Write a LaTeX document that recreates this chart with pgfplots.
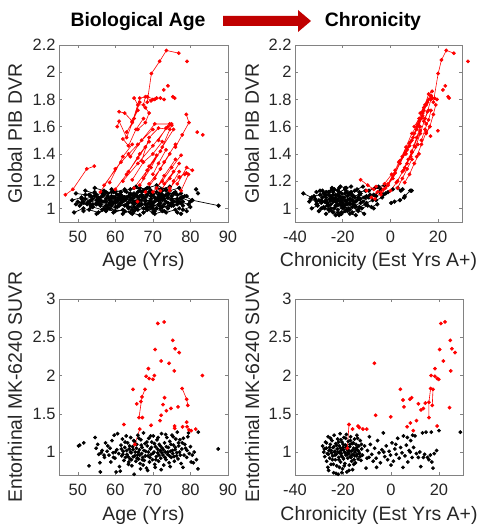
\documentclass[border=0pt]{standalone}
\usepackage{fontspec}
\setmainfont{Liberation Sans}
\usepackage{pgfplots}
\pgfplotsset{compat=1.18}

\definecolor{axgray}{RGB}{130,130,130}
\definecolor{txtgray}{RGB}{38,38,38}
\definecolor{arrowred}{RGB}{192,0,0}

\pgfplotsset{
  panel/.style={
    scale only axis, anchor=south west,
    axis line style={draw=axgray, line width=0.7pt},
    tick style={draw=axgray, line width=0.5pt},
    major tick length=3bp, tick align=inside,
    ticklabel style={font=\fontsize{16.5}{18}\selectfont, text=txtgray},
    label style={font=\fontsize{19.5}{22}\selectfont, text=txtgray},
    xlabel style={at={(axis description cs:0.5,0)}, anchor=base, yshift=-45bp},
    every x tick label/.append style={yshift=-6bp},
    unbounded coords=jump,
  },
  blk/.style={color=black, mark=*, mark size=1.6pt, line width=0.6pt},
  blkd/.style={color=black, mark=*, mark size=1.8pt, line width=0.7pt},
  rd/.style={color=red, mark=*, mark size=1.6pt, line width=0.6pt},
}

\begin{document}
\begin{tikzpicture}
\useasboundingbox (0,0) rectangle (479bp,528bp);

% header
\node[anchor=base, font=\bfseries\fontsize{19.5}{22}\selectfont] at (138bp,501bp) {Biological Age};
\node[anchor=base, font=\bfseries\fontsize{19.5}{22}\selectfont] at (373bp,501bp) {Chronicity};
\fill[arrowred] (223bp,502bp) -- (298bp,502bp) -- (298bp,496bp) -- (311bp,507bp)
  -- (298bp,518bp) -- (298bp,512bp) -- (223bp,512bp) -- cycle;

% ---------- top left: age vs PIB
\begin{axis}[panel, at={(59bp,306bp)}, width=169bp, height=177bp,
  xmin=45, xmax=90, ymin=0.9, ymax=2.2,
  xtick={50,60,70,80,90}, xticklabels={50,60,70,80,90},
  ytick={1,1.2,1.4,1.6,1.8,2,2.2}, yticklabels={1,1.2,1.4,1.6,1.8,2,2.2},
  xlabel={Age (Yrs)}, ylabel={Global PIB DVR},
  ylabel style={at={(axis description cs:-0.219,0.5)}, anchor=base}]
\addplot[blkd] coordinates {
(48.5,1.06) (51.0,1.08) (53.2,1.05) (0,nan)
(49.0,0.97) (51.5,1.00) (0,nan)
(49.5,1.11) (52.0,1.10) (54.5,1.12) (0,nan)
(50.5,1.02) (53.0,1.04) (55.0,1.03) (0,nan)
(51.0,1.07) (53.5,1.06) (0,nan)
(51.5,0.98) (54.0,1.01) (56.5,0.99) (0,nan)
(52.0,1.13) (54.5,1.11) (0,nan)
(52.5,1.04) (55.0,1.06) (57.5,1.05) (59.5,1.08) (0,nan)
(53.0,0.99) (55.5,0.97) (58.0,1.00) (0,nan)
(53.5,1.09) (56.0,1.08) (0,nan)
(54.0,1.03) (56.5,1.05) (59.0,1.02) (0,nan)
(54.5,1.15) (57.0,1.13) (0,nan)
(55.0,0.96) (57.5,0.99) (60.0,0.98) (0,nan)
(55.5,1.07) (58.0,1.09) (60.5,1.06) (0,nan)
(56.0,1.02) (58.5,1.00) (0,nan)
(56.5,1.11) (59.0,1.12) (61.5,1.10) (0,nan)
(57.0,1.05) (59.5,1.04) (62.0,1.07) (0,nan)
(57.5,0.98) (60.0,1.01) (0,nan)
(58.0,1.08) (60.5,1.10) (63.0,1.08) (65.0,1.11) (0,nan)
(58.5,1.03) (61.0,1.02) (63.5,1.04) (0,nan)
(59.0,1.14) (61.5,1.12) (0,nan)
(59.5,0.97) (62.0,0.99) (64.5,0.96) (0,nan)
(60.0,1.06) (62.5,1.08) (65.0,1.05) (0,nan)
(60.5,1.01) (63.0,1.03) (0,nan)
(61.0,1.10) (63.5,1.09) (66.0,1.12) (0,nan)
(61.5,1.04) (64.0,1.06) (66.5,1.03) (0,nan)
(62.0,0.96) (64.5,0.99) (0,nan)
(62.5,1.13) (65.0,1.15) (67.5,1.13) (0,nan)
(63.0,1.07) (65.5,1.05) (68.0,1.08) (0,nan)
(63.5,1.00) (66.0,1.02) (68.5,0.99) (0,nan)
(64.0,1.11) (66.5,1.09) (0,nan)
(64.5,1.04) (67.0,1.06) (69.5,1.05) (71.5,1.08) (0,nan)
(65.0,0.98) (67.5,1.00) (70.0,0.97) (0,nan)
(65.5,1.16) (68.0,1.14) (0,nan)
(66.0,1.08) (68.5,1.10) (71.0,1.07) (0,nan)
(66.5,1.02) (69.0,1.04) (0,nan)
(67.0,1.12) (69.5,1.13) (72.0,1.11) (0,nan)
(67.5,0.97) (70.0,1.00) (72.5,0.98) (0,nan)
(68.0,1.06) (70.5,1.05) (0,nan)
(68.5,1.15) (71.0,1.17) (73.5,1.14) (0,nan)
(69.0,1.01) (71.5,1.03) (74.0,1.00) (0,nan)
(69.5,1.09) (72.0,1.07) (0,nan)
(70.0,1.04) (72.5,1.06) (75.0,1.04) (0,nan)
(70.5,0.96) (73.0,0.98) (0,nan)
(71.0,1.12) (73.5,1.10) (76.0,1.12) (0,nan)
(71.5,1.06) (74.0,1.08) (76.5,1.05) (0,nan)
(72.0,1.00) (74.5,1.02) (0,nan)
(72.5,1.10) (75.0,1.09) (77.5,1.11) (0,nan)
(73.0,1.03) (75.5,1.05) (78.0,1.02) (0,nan)
(73.5,0.97) (76.0,0.99) (0,nan)
(74.0,1.08) (76.5,1.07) (79.0,1.09) (0,nan)
(75.0,1.02) (77.5,1.04) (0,nan)
(76.0,1.11) (78.5,1.09) (80.5,1.06) (0,nan)
(77.0,1.05) (79.5,1.03) (0,nan)
(78.0,0.99) (80.0,1.01) (0,nan)
(80.5,1.06) (87.5,1.02) (0,nan)
(81.5,1.14) (82.0,1.11) (0,nan)
(64.0,0.97) (66.5,0.95) (0,nan)
(60.0,1.12) (62.5,1.14) (0,nan)
(67.0,1.03) (69.5,1.01) (72.0,1.04) (0,nan)
(55.0,1.10) (57.5,1.12) (0,nan)
(74.5,1.13) (77.0,1.15) (0,nan)
(57.0,1.00) (62.5,0.98) (0,nan)
(70.0,1.10) (72.5,1.13) (0,nan)
(63.0,1.12) (65.5,1.10) (0,nan)
(76.5,0.97) (77.5,0.96) (0,nan)
(50.0,1.05) (52.5,1.03) (0,nan)
(53.0,1.10) (55.5,1.08) (58.0,1.11) (0,nan)
(56.0,1.06) (58.5,1.04) (61.0,1.07) (0,nan)
(58.0,1.02) (60.5,1.05) (0,nan)
(59.0,1.09) (61.5,1.07) (64.0,1.10) (0,nan)
(61.0,1.03) (63.5,1.01) (66.0,1.04) (0,nan)
(62.0,1.08) (64.5,1.10) (0,nan)
(63.0,1.02) (65.5,1.00) (68.0,1.03) (0,nan)
(65.0,1.09) (67.5,1.08) (70.0,1.10) (0,nan)
(66.0,1.05) (68.5,1.03) (0,nan)
(67.0,1.09) (69.5,1.07) (72.0,1.09) (0,nan)
(69.0,1.12) (71.5,1.10) (0,nan)
(70.0,1.02) (72.5,1.01) (75.0,1.03) (0,nan)
(71.0,1.07) (73.5,1.05) (0,nan)
(73.0,1.09) (75.5,1.11) (78.0,1.08) (0,nan)
(74.0,1.04) (76.5,1.03) (0,nan)
(75.0,1.07) (77.5,1.08) (80.0,1.05) (0,nan)
(52.0,1.07) (54.5,1.09) (0,nan)
(60.0,1.04) (62.5,1.06) (65.0,1.03) (0,nan)
(64.0,1.14) (66.5,1.15) (0,nan)
(68.0,1.00) (70.5,0.98) (0,nan)
(72.0,1.14) (74.5,1.16) (0,nan)
(77.0,1.00) (79.0,0.98) (0,nan)
(57.0,1.10) (59.5,1.12) (0,nan)
(55.0,1.04) (57.5,1.02) (0,nan)
(51.0,1.04) (53.5,1.02) (55.5,1.05) (0,nan)
(54.0,1.07) (56.5,1.09) (0,nan)
(57.5,1.07) (60.0,1.08) (62.0,1.05) (0,nan)
(59.0,1.05) (61.5,1.06) (0,nan)
(61.5,1.08) (64.0,1.08) (66.5,1.06) (0,nan)
(62.5,1.02) (65.0,1.01) (0,nan)
(64.5,1.07) (67.0,1.10) (69.5,1.11) (0,nan)
(66.5,1.13) (69.0,1.15) (0,nan)
(68.0,1.05) (70.5,1.08) (73.0,1.07) (0,nan)
(69.5,1.03) (72.0,1.02) (0,nan)
(71.0,1.15) (73.5,1.13) (0,nan)
(72.5,1.08) (75.0,1.06) (77.5,1.07) (0,nan)
(74.0,1.11) (76.5,1.10) (0,nan)
(75.5,1.02) (78.0,1.05) (0,nan)
(66.0,0.99) (68.5,1.01) (71.0,1.00) (0,nan)
(58.5,1.06) (61.0,1.08) (0,nan)
(53.5,1.01) (56.0,1.03) (0,nan)
(49.5,1.03) (51.5,1.05)
};
\addplot[rd] coordinates {
(46.7,1.10) (48.7,1.14) (52.4,1.29) (54.4,1.31) (0,nan)
(56.0,1.12) (60.0,1.29) (63.5,1.40) (0,nan)
(57.0,1.17) (61.5,1.34) (66.0,1.47) (70.0,1.58) (0,nan)
(60.5,1.60) (61.0,1.64) (63.0,1.52) (65.0,1.66) (66.5,1.78) (0,nan)
(61.0,1.71) (62.5,1.70) (64.5,1.64) (66.0,1.72) (0,nan)
(62.0,1.51) (63.5,1.46) (65.5,1.58) (67.5,1.66) (0,nan)
(63.0,1.56) (64.5,1.63) (66.5,1.81) (68.5,1.82) (70.5,1.80) (0,nan)
(65.0,1.81) (66.0,1.76) (67.5,1.76) (68.0,1.82) (69.5,1.79) (0,nan)
(68.5,1.78) (69.6,1.99) (71.8,2.08) (73.6,2.16) (76.9,2.14) (0,nan)
(70.0,1.80) (71.0,1.81) (72.0,1.81) (73.0,1.80) (0,nan)
(64.0,1.38) (67.0,1.50) (70.5,1.62) (74.5,1.62) (0,nan)
(62.0,1.20) (66.0,1.33) (70.0,1.46) (74.0,1.60) (0,nan)
(65.0,1.15) (68.5,1.28) (72.0,1.42) (75.0,1.61) (0,nan)
(66.5,1.17) (69.5,1.30) (72.5,1.45) (75.5,1.58) (0,nan)
(67.0,1.35) (69.0,1.52) (71.5,1.59) (74.5,1.58) (0,nan)
(68.0,1.12) (70.5,1.22) (73.0,1.34) (76.0,1.47) (0,nan)
(69.0,1.18) (72.0,1.29) (74.5,1.40) (0,nan)
(70.0,1.12) (72.5,1.20) (75.0,1.30) (77.5,1.39) (0,nan)
(71.0,1.15) (73.0,1.24) (76.0,1.36) (0,nan)
(72.0,1.13) (74.5,1.22) (77.0,1.33) (0,nan)
(73.0,1.18) (75.5,1.27) (0,nan)
(74.5,1.15) (77.0,1.23) (78.9,1.26) (0,nan)
(76.5,1.18) (79.0,1.30) (80.5,1.28) (0,nan)
(77.5,1.13) (79.5,1.25) (0,nan)
(76.0,1.45) (77.8,1.54) (79.6,1.63) (78.9,1.69) (0,nan)
(63.5,1.27) (66.5,1.40) (69.0,1.49) (0,nan)
(60.0,1.14) (63.0,1.25) (66.0,1.37) (68.0,1.45) (0,nan)
(58.5,1.19) (62.0,1.38) (64.5,1.47) (0,nan)
(64.5,1.21) (67.5,1.34) (70.0,1.40) (72.5,1.49) (0,nan)
(67.5,1.22) (69.0,1.31) (71.0,1.39) (0,nan)
(71.5,1.50) (73.5,1.59) (75.0,1.62) (0,nan)
(66.0,1.58) (68.0,1.63) (69.0,1.70) (68.0,1.74) (0,nan)
(74.5,1.13) (75.5,1.20) (77.0,1.27) (0,nan)
(70.0,1.25) (71.5,1.33) (73.5,1.43) (0,nan)
(79.1,2.08) (0,nan) (74.0,1.90) (0,nan) (72.9,1.87) (0,nan)
(75.3,1.82) (75.8,1.81) (0,nan) (81.8,1.56) (0,nan) (83.3,1.54) (0,nan)
(65.9,1.05) (0,nan) (78.5,1.25) (0,nan) (77.1,1.23)
};
\end{axis}

% ---------- top right: chronicity vs PIB
\begin{axis}[panel, at={(295bp,306bp)}, width=167bp, height=177bp, clip=false,
  xmin=-40, xmax=30, ymin=0.9, ymax=2.2,
  xtick={-40,-20,0,20}, xticklabels={-40,-20,0,20},
  ytick={1,1.2,1.4,1.6,1.8,2,2.2}, yticklabels={1,1.2,1.4,1.6,1.8,2,2.2},
  xlabel={Chronicity (Est Yrs A+)}, ylabel={Global PIB DVR},
  ylabel style={at={(axis description cs:-0.216,0.5)}, anchor=base}]
\addplot[blkd] coordinates {
(-36.5,1.11) (-33.0,1.08) (0,nan)
(-34.0,1.05) (-31.5,1.07) (-29.0,1.04) (0,nan)
(-33.0,1.00) (-30.5,1.02) (0,nan)
(-32.0,1.09) (-29.5,1.10) (-27.0,1.08) (0,nan)
(-31.0,1.03) (-28.5,1.05) (-26.0,1.02) (0,nan)
(-30.0,0.98) (-27.5,1.00) (0,nan)
(-29.5,1.13) (-27.0,1.12) (-24.5,1.14) (0,nan)
(-29.0,1.06) (-26.5,1.04) (-24.0,1.07) (0,nan)
(-28.0,1.01) (-25.5,0.99) (-23.0,1.02) (0,nan)
(-27.5,1.10) (-25.0,1.09) (0,nan)
(-27.0,0.96) (-24.5,0.98) (-22.0,0.97) (0,nan)
(-26.5,1.04) (-24.0,1.05) (-21.5,1.03) (-19.0,1.06) (0,nan)
(-26.0,1.12) (-23.5,1.14) (0,nan)
(-25.5,1.07) (-23.0,1.08) (-20.5,1.06) (0,nan)
(-25.0,1.00) (-22.5,1.02) (-20.0,1.00) (0,nan)
(-24.5,1.15) (-22.0,1.13) (0,nan)
(-24.0,0.97) (-21.5,0.95) (-19.0,0.98) (0,nan)
(-23.5,1.06) (-21.0,1.08) (-18.5,1.05) (0,nan)
(-23.0,1.10) (-20.5,1.11) (-18.0,1.09) (0,nan)
(-22.5,1.03) (-20.0,1.04) (0,nan)
(-22.0,0.99) (-19.5,1.01) (-17.0,0.99) (0,nan)
(-21.5,1.12) (-19.0,1.14) (-16.5,1.12) (0,nan)
(-21.0,1.05) (-18.5,1.03) (-16.0,1.06) (0,nan)
(-20.5,0.96) (-18.0,0.98) (0,nan)
(-20.0,1.08) (-17.5,1.10) (-15.0,1.08) (0,nan)
(-19.5,1.02) (-17.0,1.04) (-14.5,1.01) (0,nan)
(-19.0,1.15) (-16.5,1.16) (0,nan)
(-18.5,0.99) (-16.0,1.01) (-13.5,0.98) (0,nan)
(-18.0,1.06) (-15.5,1.05) (-13.0,1.07) (0,nan)
(-17.5,1.11) (-15.0,1.13) (-12.5,1.11) (0,nan)
(-17.0,1.03) (-14.5,1.05) (0,nan)
(-16.0,0.97) (-13.5,0.99) (-11.0,0.96) (0,nan)
(-15.5,1.09) (-13.0,1.10) (-10.5,1.08) (0,nan)
(-15.0,1.02) (-12.5,1.04) (0,nan)
(-14.0,1.06) (-11.5,1.05) (-9.0,1.08) (0,nan)
(-13.0,1.12) (-10.5,1.13) (0,nan)
(-12.0,1.00) (-9.5,1.02) (-7.0,1.00) (0,nan)
(-11.0,1.08) (-8.5,1.10) (-6.0,1.09) (0,nan)
(-10.0,1.04) (-7.5,1.06) (0,nan)
(-9.0,1.13) (-6.5,1.15) (-4.0,1.14) (0,nan)
(-8.0,1.01) (-5.5,1.03) (0,nan)
(-7.0,1.10) (-4.5,1.12) (-2.0,1.11) (0,nan)
(-6.0,1.06) (-3.5,1.08) (0,nan)
(0.3,1.04) (1.7,1.05) (4.0,1.06) (5.8,1.08) (0,nan)
(3.0,1.15) (4.4,1.13) (5.1,1.14) (0,nan)
(6.0,1.09) (8.3,1.13) (8.9,1.13) (0,nan)
(-28.5,1.08) (-26.0,1.10) (0,nan)
(-26.0,0.99) (-23.5,1.00) (0,nan)
(-23.0,0.95) (-20.5,0.97) (0,nan)
(-21.0,1.16) (-18.5,1.15) (0,nan)
(-31.0,1.12) (-28.5,1.13) (0,nan)
(-17.0,0.96) (-14.5,0.95) (0,nan)
(-30.0,1.06) (-27.5,1.05) (-25.0,1.06) (0,nan)
(-24.0,1.10) (-21.5,1.09) (-19.0,1.11) (0,nan)
(-20.0,1.02) (-17.5,1.00) (0,nan)
(-16.0,1.09) (-13.5,1.08) (0,nan)
(-14.0,1.14) (-11.5,1.16) (0,nan)
(-3.0,1.10) (-1.0,1.12) (1.0,1.14) (0,nan)
(-5.0,1.16) (-2.5,1.17) (0,nan)
(-33.5,1.07) (-31.0,1.05) (0,nan)
(-29.0,1.00) (-26.5,1.02) (0,nan)
(-27.0,1.06) (-24.5,1.08) (-22.0,1.06) (0,nan)
(-25.0,1.03) (-22.5,1.05) (0,nan)
(-22.0,1.10) (-19.5,1.08) (-17.0,1.07) (0,nan)
(-20.5,1.02) (-18.0,1.03) (0,nan)
(-18.5,1.12) (-16.0,1.10) (0,nan)
(-15.5,1.03) (-13.0,1.01) (-10.5,1.03) (0,nan)
(-12.5,1.07) (-10.0,1.09) (0,nan)
(-24.0,1.12) (-21.5,1.15) (0,nan)
(-28.0,1.11) (-25.5,1.12)
};
\addplot[rd] coordinates {
(18.0,1.78) (20.0,1.99) (21.4,2.09) (23.4,2.16) (26.6,2.14) (0,nan)
(-12.5,1.21) (-9.5,1.17) (-7.0,1.14) (0,nan)
(-10.0,1.13) (-6.0,1.16) (-3.0,1.14) (0,nan)
(-6.5,1.07) (-4.0,1.12) (-1.0,1.18) (2.0,1.28) (0,nan)
(-4.0,1.10) (-1.0,1.17) (2.0,1.26) (5.0,1.38) (8.0,1.48) (0,nan)
(-2.0,1.15) (1.0,1.22) (4.0,1.33) (7.0,1.43) (0,nan)
(0.0,1.13) (3.0,1.20) (6.0,1.30) (9.0,1.41) (0,nan)
(1.0,1.24) (3.5,1.34) (6.0,1.40) (8.5,1.49) (0,nan)
(2.5,1.19) (5.5,1.28) (8.5,1.38) (11.5,1.47) (0,nan)
(4.0,1.35) (6.5,1.45) (9.0,1.55) (11.5,1.62) (13.5,1.70) (0,nan)
(5.0,1.27) (7.5,1.36) (10.0,1.46) (12.5,1.57) (0,nan)
(6.5,1.40) (9.0,1.50) (11.0,1.58) (13.0,1.66) (15.0,1.76) (0,nan)
(8.0,1.46) (10.0,1.55) (12.0,1.64) (14.0,1.72) (16.0,1.80) (17.5,1.81) (0,nan)
(9.5,1.52) (11.5,1.61) (13.5,1.68) (15.0,1.62) (0,nan)
(10.5,1.45) (12.5,1.55) (14.5,1.66) (16.0,1.72) (0,nan)
(12.0,1.60) (13.5,1.70) (15.5,1.78) (17.0,1.82) (0,nan)
(13.0,1.50) (14.5,1.58) (16.0,1.65) (17.0,1.72) (0,nan)
(14.0,1.64) (15.5,1.71) (17.0,1.80) (18.5,1.81) (19.5,1.80) (0,nan)
(11.0,1.38) (13.0,1.47) (15.0,1.56) (16.5,1.60) (0,nan)
(15.0,1.55) (16.5,1.60) (18.0,1.69) (19.0,1.76) (0,nan)
(7.0,1.33) (9.0,1.42) (11.0,1.52) (12.5,1.60) (0,nan)
(3.0,1.15) (5.0,1.22) (7.0,1.29) (9.0,1.36) (0,nan)
(6.0,1.19) (8.0,1.25) (10.0,1.33) (12.0,1.40) (0,nan)
(-8.0,1.08) (-5.5,1.12) (-2.5,1.18) (0.5,1.25) (0,nan)
(10.0,1.60) (12.0,1.66) (14.0,1.74) (15.5,1.78) (17.0,1.83) (0,nan)
(12.5,1.70) (14.5,1.76) (16.0,1.84) (17.5,1.86) (0,nan)
(32.5,2.08) (0,nan) (23.0,1.90) (0,nan) (22.0,1.87) (0,nan)
(24.2,1.82) (24.6,1.81) (0,nan) (16.8,1.53) (0,nan) (19.9,1.57)
};
\end{axis}

% ---------- bottom left: age vs MK-6240
\begin{axis}[panel, at={(59bp,53bp)}, width=169bp, height=176bp,
  xmin=45, xmax=90, ymin=0.7, ymax=3,
  xtick={50,60,70,80,90}, xticklabels={50,60,70,80,90},
  ytick={1,1.5,2,2.5,3}, yticklabels={1,1.5,2,2.5,3},
  xlabel={Age (Yrs)}, ylabel={Entorhinal MK-6240 SUVR},
  ylabel style={at={(axis description cs:-0.219,0.5)}, anchor=base}]
\addplot[blk, only marks] coordinates {
(50.2,1.08) (50.5,1.09) (51.6,1.12) (53.0,0.82) (54.6,1.19) (54.9,1.05) (55.3,1.10)
(55.6,0.97) (55.9,0.86) (56.0,0.74) (56.2,0.99) (56.5,1.02) (57.1,0.93) (57.4,1.12)
(57.8,1.01) (58.3,0.96) (58.6,1.05) (58.8,0.87) (59.1,1.15) (59.4,0.99) (59.7,1.22)
(59.9,0.92) (60.2,0.74) (60.4,1.03) (60.6,1.24) (60.9,0.98) (61.1,0.81) (61.3,0.75)
(61.5,1.09) (61.7,0.95) (61.9,1.17) (62.1,1.01) (62.3,0.89) (62.5,1.06) (62.7,0.93)
(62.9,1.21) (63.1,0.97) (63.3,1.12) (63.5,0.84) (63.7,1.04) (63.9,0.91) (64.1,1.19)
(64.2,0.99) (64.4,0.82) (64.6,1.07) (64.8,0.94) (65.0,0.71) (65.1,1.14) (65.3,1.00)
(65.5,0.88) (65.7,1.10) (65.9,0.96) (66.0,1.22) (66.2,0.91) (66.4,1.03) (66.6,0.85)
(66.8,1.16) (67.0,0.98) (67.1,1.06) (67.3,0.93) (67.5,1.25) (67.7,0.89) (67.9,1.11)
(68.1,1.01) (68.3,0.79) (68.5,1.08) (68.7,0.95) (68.9,1.18) (69.1,0.87) (69.3,1.04)
(69.5,0.97) (69.7,1.13) (69.9,0.90) (70.1,1.21) (70.3,1.00) (70.5,0.84) (70.7,1.07)
(70.9,0.94) (71.1,1.16) (71.3,0.99) (71.5,0.88) (71.7,1.10) (71.9,1.02) (72.1,0.92)
(72.3,1.24) (72.5,1.05) (72.7,0.96) (72.9,0.83) (73.1,1.12) (73.3,1.00) (73.5,0.90)
(73.7,1.19) (73.9,0.97) (74.1,1.06) (74.3,0.86) (74.5,1.14) (74.7,1.01) (74.9,0.93)
(75.1,1.22) (75.3,0.98) (75.5,1.09) (75.7,0.88) (75.9,1.03) (76.1,1.17) (76.3,0.95)
(76.5,1.26) (76.7,0.91) (76.9,1.08) (77.1,1.00) (77.5,0.85) (77.8,1.12) (78.0,0.80)
(78.3,0.96) (78.7,1.05) (79.0,0.93) (79.3,1.20) (79.7,0.98) (80.2,0.87) (80.8,0.86)
(81.6,0.90) (82.0,0.78) (82.1,1.26) (87.4,1.04)
(62.0,0.97) (62.6,1.13) (63.0,1.02) (63.4,0.94) (63.8,1.08) (64.0,1.00) (64.3,0.90)
(64.7,1.03) (65.2,0.95) (65.6,1.05) (65.8,0.92) (66.1,1.00) (66.5,0.96) (66.9,1.09)
(67.2,0.90) (67.6,1.02) (68.0,0.95) (68.4,1.13) (68.8,1.00) (69.2,0.93) (69.6,1.06)
(70.0,0.98) (70.4,1.11) (70.8,0.90) (71.2,1.04) (71.6,0.96) (72.0,1.08) (72.4,0.99)
(72.8,1.03) (73.2,0.93) (73.6,1.07) (74.0,1.00) (74.4,0.95) (74.8,1.10) (75.2,1.02)
(75.6,0.94) (76.0,1.06) (76.4,0.99) (76.8,1.12) (77.3,0.96) (77.7,1.04) (78.5,1.10)
(79.1,1.02) (80.0,1.07) (80.5,0.96) (81.0,1.00) (64.9,1.15) (66.3,1.18) (69.4,1.21)
(71.4,1.19) (73.4,1.23) (75.4,1.20) (77.2,1.16) (78.1,1.18) (79.5,1.25) (61.6,1.04)
(60.0,1.00) (58.0,1.08) (57.0,0.96) (59.5,0.93) (63.6,0.87) (67.4,0.83) (70.6,0.80)
(74.6,0.81) (72.2,0.77) (68.6,0.76) (66.7,0.78)
};
\addplot[rd] coordinates {
(67.9,1.82) (67.1,1.72) (66.3,1.45) (0,nan)
(77.8,1.83) (79.0,1.69) (79.3,1.61) (0,nan)
(66.5,1.30) (65.2,1.10) (0,nan)
(71.3,2.68) (0,nan) (73.0,2.70) (0,nan) (75.3,2.46) (0,nan) (75.9,2.35) (0,nan)
(77.0,2.30) (0,nan) (70.6,2.34) (0,nan) (72.2,2.19) (0,nan) (74.3,2.16) (0,nan)
(75.7,2.06) (0,nan) (68.8,2.09) (0,nan) (68.2,1.99) (0,nan) (69.0,1.96) (0,nan)
(70.0,1.95) (0,nan) (70.4,2.00) (0,nan) (83.2,2.00) (0,nan) (64.7,1.82) (0,nan)
(73.1,1.71) (0,nan) (72.7,1.62) (0,nan) (76.7,1.59) (0,nan) (74.8,1.57) (0,nan)
(73.6,1.54) (0,nan) (72.2,1.48) (0,nan) (71.9,1.41) (0,nan) (62.3,1.36) (0,nan)
(69.5,1.35) (0,nan) (75.8,1.34) (0,nan) (75.8,1.31) (0,nan) (79.0,1.39) (0,nan)
(79.1,1.33) (0,nan) (77.9,1.33) (0,nan) (80.2,1.28) (0,nan) (81.4,1.30) (0,nan)
(79.6,1.29) (0,nan) (65.7,1.63) (0,nan) (67.2,1.45) (0,nan) (66.8,1.66)
};
\end{axis}

% ---------- bottom right: chronicity vs MK-6240
\begin{axis}[panel, at={(295bp,53bp)}, width=168bp, height=176bp,
  xmin=-40, xmax=30, ymin=0.7, ymax=3,
  xtick={-40,-20,0,20}, xticklabels={-40,-20,0,20},
  ytick={1,1.5,2,2.5,3}, yticklabels={1,1.5,2,2.5,3},
  xlabel={Chronicity (Est Yrs A+)}, ylabel={Entorhinal MK-6240 SUVR},
  ylabel style={at={(axis description cs:-0.214,0.5)}, anchor=base}]
\addplot[blk, only marks] coordinates {
(-28.5,1.08) (-28.0,1.00) (-27.6,0.94) (-27.3,1.13) (-27.0,1.05) (-26.8,0.88) (-26.5,0.98)
(-26.2,1.20) (-26.0,0.76) (-25.8,1.02) (-25.5,0.92) (-25.3,1.10) (-25.0,0.84) (-24.8,0.99)
(-24.6,1.15) (-24.3,0.95) (-24.1,1.06) (-23.9,0.73) (-23.7,1.22) (-23.4,1.01) (-23.2,0.90)
(-23.0,1.11) (-22.8,0.97) (-22.6,0.82) (-22.4,1.04) (-22.2,1.17) (-22.0,0.71) (-21.8,0.93)
(-21.6,1.08) (-21.4,0.99) (-21.2,1.24) (-21.0,0.87) (-20.8,1.02) (-20.6,0.95) (-20.4,1.13)
(-20.2,0.78) (-20.0,1.06) (-19.8,0.91) (-19.6,1.19) (-19.4,1.00) (-19.2,0.85) (-19.0,1.09)
(-18.8,0.96) (-18.6,1.23) (-18.4,0.74) (-18.2,1.03) (-18.0,0.92) (-17.8,1.14) (-17.6,0.98)
(-17.4,0.83) (-17.2,1.07) (-17.0,0.94) (-16.8,1.20) (-16.6,1.01) (-16.4,0.88) (-16.2,1.11)
(-16.0,0.77) (-15.8,0.97) (-15.6,1.05) (-15.4,0.90) (-15.2,1.17) (-15.0,1.00) (-14.8,0.86)
(-14.6,1.10) (-14.4,0.95) (-14.2,1.22) (-14.0,1.03) (-13.7,0.91) (-13.4,1.08) (-13.1,0.98)
(-12.8,1.15) (-12.5,0.89) (-12.2,1.04) (-11.9,0.96)
(-27.8,1.04) (-26.9,1.12) (-26.1,0.97) (-25.6,1.06) (-24.9,1.02) (-24.4,0.90) (-23.8,1.07)
(-23.3,0.96) (-22.7,1.09) (-22.1,1.00) (-21.7,0.90) (-21.1,1.05) (-20.7,0.98) (-20.1,0.93)
(-19.7,1.03) (-19.1,0.99) (-18.7,1.06) (-18.1,0.97) (-17.7,1.02) (-17.1,1.10) (-16.7,0.93)
(-16.1,1.02) (-15.7,1.12) (-15.1,0.95) (-14.7,1.03) (-14.1,0.97) (-13.5,1.01) (-12.9,0.94)
(-12.3,1.10) (-26.3,0.80) (-24.0,0.84) (-21.5,0.80) (-19.5,0.82) (-17.5,0.76) (-15.5,0.84)
(-25.2,1.18) (-20.9,1.16) (-18.9,1.18) (-16.9,1.15) (-13.9,1.18) (-22.9,0.72) (-20.5,0.73)
(-21.9,1.13) (-23.6,1.00) (-19.9,1.10) (-17.9,1.00) (-16.3,0.96) (-14.3,1.06)
(-10.4,0.79) (-9.8,1.02) (-9.2,0.93) (-8.6,1.10) (-8.0,0.97) (-7.4,0.88) (-6.8,1.05)
(-6.2,0.92) (-5.6,1.15) (-5.0,0.99) (-4.4,0.86) (-3.8,1.03) (-3.2,1.25) (-2.6,0.94)
(-2.0,1.08) (-1.4,0.90) (-0.8,1.01) (-0.2,0.96) (0.4,1.12) (1.0,0.88) (1.6,1.04)
(2.2,0.97) (2.8,1.18) (3.4,0.92) (4.0,1.06) (4.6,0.99) (5.2,1.21) (5.8,0.95)
(6.4,1.09) (7.0,0.87) (7.6,1.02) (8.2,1.15) (8.8,0.93) (9.4,1.06) (10.0,1.21)
(10.6,0.98) (11.4,0.93) (12.0,1.00) (12.4,0.81) (13.1,1.25) (13.5,0.93) (14.0,0.97)
(14.6,1.26) (15.2,0.93) (15.8,0.90) (16.4,0.96) (16.8,1.26) (17.5,0.79) (17.0,0.87)
(18.0,0.98) (19.0,1.02) (20.0,1.28) (28.9,1.26) (-9.0,1.20) (-6.0,0.80) (-3.0,1.00)
(0.0,0.83) (2.0,1.10) (5.0,0.80) (8.0,1.00) (-11.0,1.08) (-10.0,0.92) (6.8,1.19) (9.0,1.22)
};
\addplot[rd] coordinates {
(-17.5,1.36) (-18.2,1.05) (0,nan)
(16.5,1.83) (15.8,1.65) (15.8,1.45) (0,nan)
(17.5,1.82) (17.2,1.61) (0,nan)
(20.8,2.68) (0,nan) (22.5,2.70) (0,nan) (24.7,2.46) (0,nan) (25.4,2.35) (0,nan)
(26.7,2.30) (0,nan) (20.3,2.34) (0,nan) (21.8,2.19) (0,nan) (24.9,2.06) (0,nan)
(-6.9,2.16) (0,nan) (18.3,2.09) (0,nan) (16.7,2.00) (0,nan) (18.3,1.99) (0,nan)
(19.3,1.96) (0,nan) (19.9,1.95) (0,nan) (3.9,1.82) (0,nan) (8.6,1.71) (0,nan)
(7.9,1.69) (0,nan) (5.0,1.68) (0,nan) (14.3,1.64) (0,nan) (5.4,1.59) (0,nan)
(11.4,1.63) (0,nan) (13.5,1.57) (0,nan) (12.5,1.55) (0,nan) (24.4,1.58) (0,nan)
(-6.4,1.48) (0,nan) (-0.1,1.46) (0,nan) (10.6,1.41) (0,nan) (8.1,1.38) (0,nan)
(6.7,1.33) (0,nan) (19.2,1.34) (0,nan) (9.3,1.28) (0,nan) (-16.0,1.30) (0,nan)
(-13.75,1.34) (0,nan) (-13.2,1.32) (0,nan) (-11.7,1.30) (0,nan) (-10.1,1.30)
};
\end{axis}
\end{tikzpicture}
\end{document}
